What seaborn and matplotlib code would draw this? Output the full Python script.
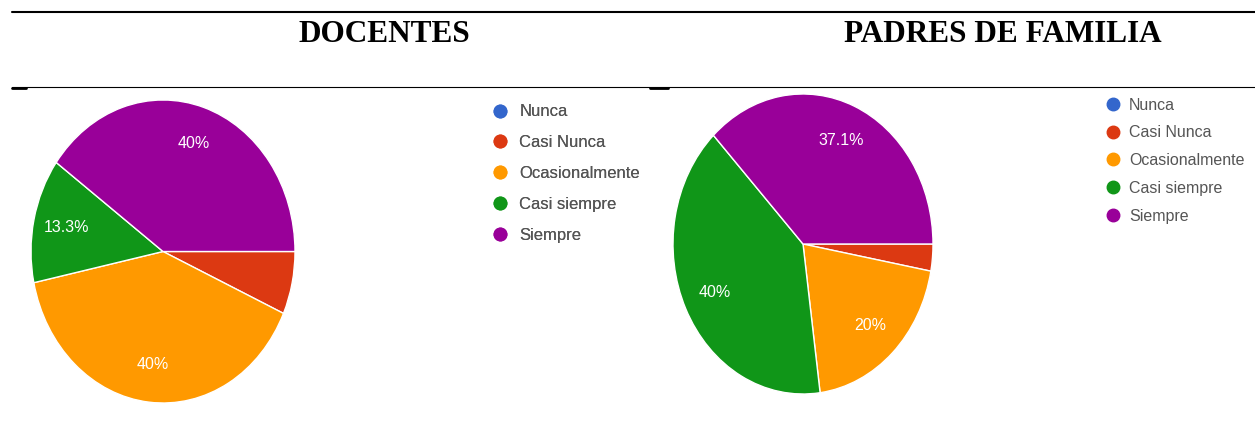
import matplotlib
matplotlib.use("Agg")
import matplotlib.pyplot as plt
from matplotlib.lines import Line2D
import seaborn as sns

# data (percent of answers)
categories = ["Nunca", "Casi Nunca", "Ocasionalmente", "Casi siempre", "Siempre"]
docentes = [0, 6.7, 40, 13.3, 40]
padres = [0, 2.9, 20, 40, 37.1]
titles = ["DOCENTES", "PADRES DE FAMILIA"]

colors = sns.color_palette(["#3366cc", "#dc3912", "#ff9900", "#109618", "#990099"])

sns.set_theme(style="white")
plt.rcParams['font.family'] = ['Liberation Sans', 'DejaVu Sans']

W, H = 1255, 443
fig = plt.figure(figsize=(W / 100, H / 100), dpi=100)


def fx(x):
    return x / W


def fy(y):
    return 1 - y / H


def pct_label(p):
    # small slices get no label, like the original chart
    if p < 10:
        return ''
    s = f"{p:.1f}"
    if s.endswith('.0'):
        s = s[:-2]
    return s + '%'


def draw_pie(box, values):
    x0, y0, x1, y1 = box
    ax = fig.add_axes([fx(x0), fy(y1), fx(x1 - x0), (y1 - y0) / H])
    ax.pie(values, colors=colors, startangle=0, counterclock=False,
           autopct=pct_label, pctdistance=0.75,
           wedgeprops=dict(edgecolor='white', linewidth=1.0),
           textprops=dict(color='white', fontsize=11.5))
    ax.set_aspect('auto')
    ax.set_xlim(-1, 1)
    ax.set_ylim(-1, 1)
    ax.axis('off')
    return ax


draw_pie((31, 100, 295, 403), docentes)
draw_pie((673, 94, 933, 394), padres)

# legends
handles = [Line2D([], [], linestyle='none', marker='o', markersize=9,
                  markerfacecolor=c, markeredgecolor=c) for c in colors]

leg_left = fig.legend(handles, categories, loc='upper left',
                      bbox_to_anchor=(fx(492), fy(104.5)), frameon=False,
                      borderpad=0, borderaxespad=0, handlelength=1.0,
                      handletextpad=0.64, labelspacing=0.95, fontsize=12,
                      labelcolor='#555555')
fig.add_artist(leg_left)
fig.legend(handles, categories, loc='upper left',
           bbox_to_anchor=(fx(1105), fy(97.5)), frameon=False,
           borderpad=0, borderaxespad=0, handlelength=1.0,
           handletextpad=0.5, labelspacing=0.8, fontsize=11.5,
           labelcolor='#555555')

# titles
fig.text(fx(384), fy(35), titles[0], ha='center', va='center',
         family='Liberation Serif', fontweight='bold', fontsize=22.5, color='black')
fig.text(fx(1003), fy(35), titles[1], ha='center', va='center',
         family='Liberation Serif', fontweight='bold', fontsize=22.5, color='black')

# table rules
fig.add_artist(Line2D([fx(12), 1], [fy(12), fy(12)], color='black', lw=1.5))
fig.add_artist(Line2D([fx(12), 1], [fy(87), fy(87)], color='black', lw=0.8))
fig.add_artist(Line2D([fx(12), fx(26)], [fy(87.5), fy(87.5)], color='black', lw=2))
fig.add_artist(Line2D([fx(650), fx(668)], [fy(87.5), fy(87.5)], color='black', lw=2))

fig.savefig("out.png", dpi=100)
